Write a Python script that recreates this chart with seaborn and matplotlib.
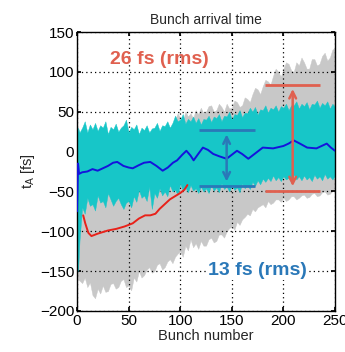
import matplotlib
matplotlib.use("Agg")
import matplotlib.pyplot as plt
import seaborn as sns
import pandas as pd

# envelope sample positions (bunch number)
bunch = [0, 1,
         2.5, 5, 7.5, 10, 12.5, 15, 17.5, 20, 22.5, 25,
         27.5, 30, 32.5, 35, 37.5, 40, 42.5, 45, 47.5, 50,
         52.5, 55, 57.5, 60, 62.5, 65, 67.5, 70, 72.5, 75,
         77.5, 80, 82.5, 85, 87.5, 90, 92.5, 95, 97.5, 100,
         102.5, 105, 107.5, 110, 112.5, 115, 117.5, 120, 122.5, 125,
         127.5, 130, 132.5, 135, 137.5, 140, 142.5, 145, 147.5, 150,
         152.5, 155, 157.5, 160, 162.5, 165, 167.5, 170, 172.5, 175,
         177.5, 180, 182.5, 185, 187.5, 190, 192.5, 195, 197.5, 200,
         202.5, 205, 207.5, 210, 212.5, 215, 217.5, 220, 222.5, 225,
         227.5, 230, 232.5, 235, 237.5, 240, 242.5, 245, 247.5, 250]

# all bunch trains, no feedback (grey cloud)
grey_hi = [10, 12,
           14, 14, 12, 12, 15, 15, 14, 14, 16, 16,
           15, 14, 16, 15, 16, 16, 15, 15, 17, 16,
           15, 15, 17, 17, 16, 16, 18, 18, 17, 17,
           19, 19, 20, 20, 24, 25, 34, 40, 48, 42,
           38, 50, 44, 48, 42, 52, 47, 55, 48, 50,
           57, 58, 50, 52, 60, 56, 50, 60, 54, 55,
           64, 62, 56, 58, 68, 66, 62, 72, 80, 78,
           72, 82, 90, 88, 84, 95, 104, 100, 94, 104,
           112, 110, 102, 100, 112, 108, 118, 112, 104, 104,
           116, 116, 108, 110, 120, 124, 114, 118, 128, 130]
grey_lo = [-150, -160,
           -162, -165, -158, -170, -164, -180, -184, -172, -178, -168,
           -176, -175, -166, -165, -172, -170, -162, -160, -170, -168,
           -174, -158, -163, -150, -158, -155, -148, -145, -152, -150,
           -142, -140, -148, -145, -138, -135, -140, -132, -128, -125,
           -132, -118, -124, -110, -120, -115, -122, -112, -118, -118,
           -110, -108, -114, -112, -104, -104, -108, -100, -96, -94,
           -98, -88, -92, -85, -82, -78, -80, -72, -75, -70,
           -68, -66, -70, -62, -66, -64, -60, -60, -63, -58,
           -62, -60, -56, -56, -60, -58, -55, -54, -58, -57,
           -53, -52, -56, -55, -51, -50, -54, -53, -49, -50]

# all bunch trains, feedback on (cyan cloud)
cyan_hi = [20, 30,
           24, 30, 38, 24, 34, 28, 36, 26, 33, 30,
           38, 22, 31, 28, 35, 25, 30, 33, 40, 24,
           31, 28, 34, 22, 30, 27, 33, 24, 29, 30,
           36, 26, 33, 32, 38, 30, 36, 45, 38, 40,
           47, 35, 41, 38, 44, 36, 42, 34, 41, 40,
           45, 37, 44, 42, 47, 38, 45, 44, 50, 40,
           47, 46, 52, 43, 49, 48, 55, 50, 56, 46,
           53, 52, 58, 49, 55, 53, 58, 50, 57, 55,
           60, 52, 58, 58, 63, 54, 60, 57, 62, 53,
           60, 59, 64, 55, 61, 58, 63, 54, 60, 56]
cyan_lo = [-140, -150,
           -110, -70, -78, -58, -68, -66, -74, -55, -64, -62,
           -70, -52, -60, -68, -62, -58, -66, -72, -64, -62,
           -70, -56, -63, -48, -58, -55, -62, -44, -72, -52,
           -58, -46, -55, -50, -56, -42, -50, -48, -54, -40,
           -49, -45, -51, -42, -49, -46, -52, -44, -50, -46,
           -52, -42, -49, -45, -51, -40, -47, -44, -50, -42,
           -48, -45, -51, -40, -46, -42, -47, -38, -43, -36,
           -41, -34, -38, -33, -37, -30, -36, -32, -37, -31,
           -35, -33, -38, -29, -35, -31, -36, -30, -35, -32,
           -37, -29, -34, -31, -36, -28, -34, -31, -35, -30]

# mean with feedback (blue)
blue_x = [0, 1, 2, 5, 10, 15, 20, 25, 30, 35, 39, 45, 50, 54, 60, 65, 71, 77, 83, 88, 93,
          97, 102, 106, 110, 113, 118, 122, 127, 132, 138, 145, 150, 155, 160, 166, 172,
          180, 190, 200, 205, 210, 216, 223, 232, 237, 242, 246, 250]
blue_y = [-75, -15, -28, -26, -25, -22, -24, -21, -18, -14, -13, -18, -20, -21, -17, -14,
          -13, -18, -24, -20, -14, -11, -4, 1, -5, -11, -2, 5, 2, -3, -6, -9, -4, 1, -3, -9,
          -3, 5, 4, 7, 10, 14, 10, 5, 4, 7, 10, 5, 1]

# mean without feedback (red)
red_x = [6, 8, 11, 14, 20, 25, 30, 38, 46, 54, 60, 66, 71, 76, 80, 85, 90, 95, 100, 104, 107]
red_y = [-80, -90, -102, -106, -103, -101, -99, -97, -94, -90, -84, -80, -80, -78, -72,
         -66, -60, -56, -52, -48, -42]

sns.set_theme(style="white")
plt.rcParams['font.family'] = ['Liberation Sans', 'DejaVu Sans']

fig = plt.figure(figsize=(3.45, 3.52), dpi=100)
ax = fig.add_axes([77 / 345, 1 - 311 / 352, 258 / 345, 279 / 352])

ax.fill_between(bunch, grey_lo, grey_hi, color='#c8c8c8', lw=0.3, edgecolor='#c8c8c8', zorder=1)
ax.fill_between(bunch, cyan_lo, cyan_hi, color='#17c6c8', lw=0.3, edgecolor='#17c6c8', zorder=2)

blue_df = pd.DataFrame({'bunch': blue_x, 't': blue_y})
red_df = pd.DataFrame({'bunch': red_x, 't': red_y})
sns.lineplot(data=blue_df, x='bunch', y='t', ax=ax, color='#1414dc', lw=1.4, zorder=3)
sns.lineplot(data=red_df, x='bunch', y='t', ax=ax, color='#e8221a', lw=1.4, zorder=3)

# rms markers
blue_c = '#2a78b8'
red_c = '#e0604f'
ax.hlines([27, -43], 118, 172, color=blue_c, lw=2, zorder=4)
ax.annotate('', xy=(145, 25), xytext=(145, -41),
            arrowprops=dict(arrowstyle='<->', color=blue_c, lw=1.8, mutation_scale=12), zorder=4)
ax.hlines([84, -49], 182, 235, color=red_c, lw=2, zorder=4)
ax.annotate('', xy=(209, 82), xytext=(209, -47),
            arrowprops=dict(arrowstyle='<->', color=red_c, lw=1.8, mutation_scale=12), zorder=4)

ax.text(32, 116, '26 fs (rms)', color=red_c, fontsize=14, fontweight='bold', va='center', ha='left')
ax.text(127, -149, '13 fs (rms)', color=blue_c, fontsize=14, fontweight='bold', va='center', ha='left',
        bbox=dict(facecolor='white', edgecolor='none', pad=1), zorder=5)

ax.set_xlim(0, 250)
ax.set_ylim(-200, 150)
ax.set_xticks([0, 50, 100, 150, 200, 250])
ax.set_yticks([-200, -150, -100, -50, 0, 50, 100, 150])
ax.set_axisbelow('line')
ax.grid(True, color='black', ls=(0, (1, 2.5)), lw=0.9)
ax.tick_params(direction='in', length=3, labelsize=11, top=True, right=True,
               bottom=True, left=True, colors='black', pad=2)
for s in ax.spines.values():
    s.set_color('black')
    s.set_linewidth(1)

ax.set_xlabel('Bunch number', fontsize=10.5, labelpad=1)
ax.set_ylabel(r'$\mathregular{t_A}$ [fs]', fontsize=10.5, labelpad=2)
ax.set_title('Bunch arrival time', fontsize=10, pad=6)

fig.savefig('out.png', dpi=100)
